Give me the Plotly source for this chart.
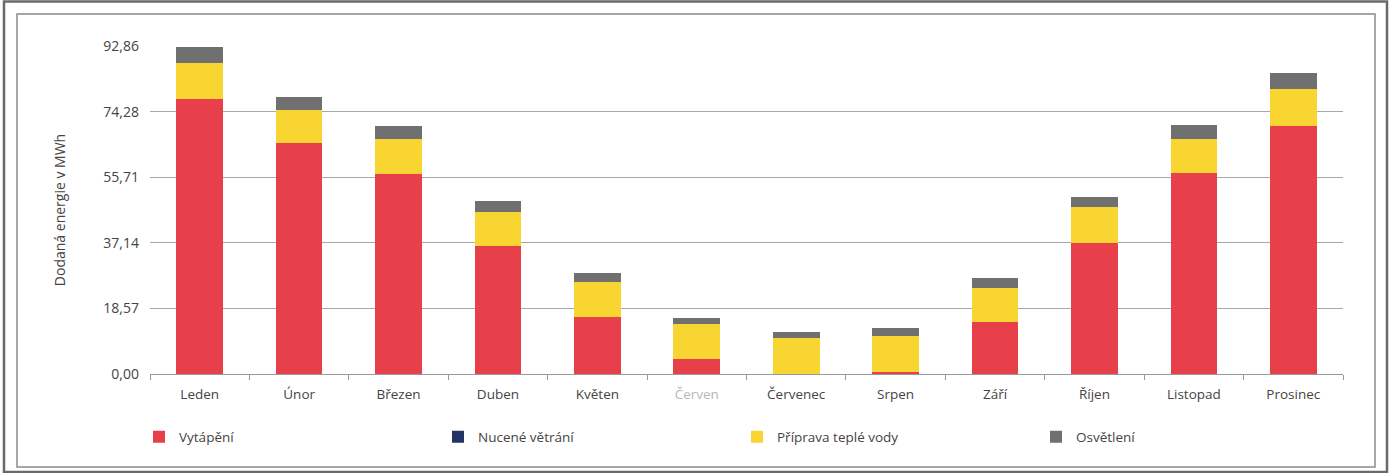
import plotly.graph_objects as go

months = ["Leden", "Únor", "Březen", "Duben", "Květen", "Červen",
          "Červenec", "Srpen", "Září", "Říjen", "Listopad", "Prosinec"]
month_labels = [m if m != "Červen" else "<span style='color:#b8b8b8'>Červen</span>" for m in months]

vytapeni = [77.9, 65.4, 56.5, 36.2, 16.2, 4.3, 0.1, 0.5, 14.7, 37.1, 56.9, 70.3]
nucene_vetrani = [0, 0, 0, 0, 0, 0, 0, 0, 0, 0, 0, 0]
priprava_vody = [10.1, 9.3, 10.1, 9.7, 9.9, 9.9, 10.0, 10.3, 9.6, 10.1, 9.7, 10.3]
osvetleni = [4.5, 3.7, 3.5, 3.0, 2.4, 1.6, 1.8, 2.2, 3.0, 3.0, 4.0, 4.6]

y_ticks = [0, 18.57, 37.14, 55.71, 74.28, 92.86]
y_tick_labels = ["0,00", "18,57", "37,14", "55,71", "74,28", "92,86"]

W, H = 1392, 473
FONT = "Open Sans"
TXT = "#444444"

fig = go.Figure()
series = [
    ("Vytápění", vytapeni, "#E8404A"),
    ("Nucené větrání", nucene_vetrani, "#243466"),
    ("Příprava teplé vody", priprava_vody, "#F9D531"),
    ("Osvětlení", osvetleni, "#707070"),
]
for name, vals, col in series:
    fig.add_trace(go.Bar(
        x=month_labels, y=vals, name=name,
        marker=dict(color=col, line=dict(width=0)),
        width=0.47,
    ))

L, R, T, B = 150, 1343, 46, 374
pw, ph = R - L, B - T


def px(x):
    return (x - L) / pw


def py(y):
    return (B - y) / ph


fig.update_layout(
    width=W, height=H, autosize=False,
    margin=dict(l=L, r=W - R, t=T, b=H - B, autoexpand=False),
    barmode="stack",
    paper_bgcolor="white", plot_bgcolor="white",
    font=dict(family=FONT, size=14, color=TXT),
    xaxis=dict(
        automargin=False,
        showgrid=False, showline=True, linecolor="#999999", linewidth=1,
        ticks="outside", tickson="boundaries", ticklen=5, tickcolor="#999999",
        ticklabelstandoff=8,
        tickfont=dict(size=13.5, color=TXT),
    ),
    yaxis=dict(
        automargin=False,
        range=[0, 92.86],
        tickvals=y_ticks, ticktext=y_tick_labels,
        showgrid=True, gridcolor="#a8a8a8", gridwidth=1,
        zeroline=False, showline=False,
        ticks="", ticklabelstandoff=10,
        tickfont=dict(size=14, color=TXT),
        title=dict(text="Dodaná energie v MWh", font=dict(size=14, color=TXT), standoff=34),
    ),
    legend=dict(
        orientation="h", xref="container", yref="container",
        x=139 / W, y=(H - 437) / H, yanchor="middle", xanchor="left",
        entrywidth=254, entrywidthmode="pixels",
        font=dict(size=13.5, color=TXT), bgcolor="rgba(0,0,0,0)",
        traceorder="normal",
    ),
    shapes=[
        dict(type="rect", xref="paper", yref="paper",
             x0=px(4), x1=px(1387), y0=py(472), y1=py(1.5),
             line=dict(color="#6a6a6a", width=2.5)),
        dict(type="rect", xref="paper", yref="paper",
             x0=px(17), x1=px(1375), y0=py(467), y1=py(14),
             line=dict(color="#8a8a8a", width=1.5)),
    ],
)

fig.write_html("out.html")
